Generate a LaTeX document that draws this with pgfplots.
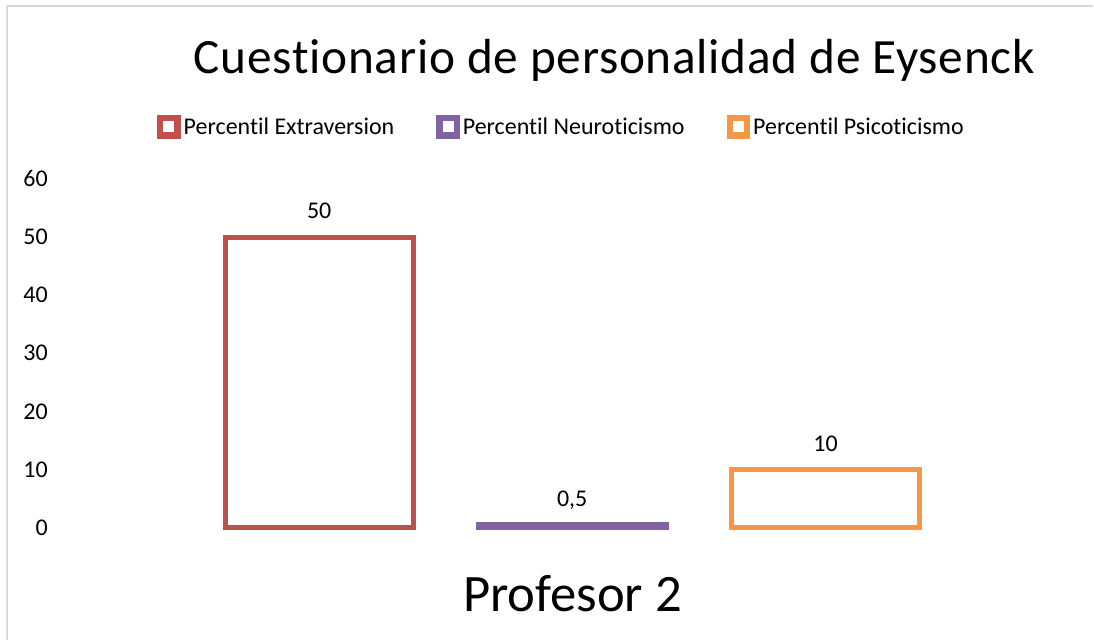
\documentclass[border=0pt]{standalone}
\usepackage{pgfplots}
\pgfplotsset{compat=1.18}
\usepackage{fontspec}
\setmainfont{Carlito}[Ligatures=NoCommon]
\newfontfamily\titlefont{Carlito}[Ligatures=NoCommon, LetterSpace=1.5]
\definecolor{cred}{RGB}{192,80,77}
\definecolor{cpur}{RGB}{128,100,162}
\definecolor{corg}{RGB}{247,150,70}
\definecolor{cframe}{RGB}{217,217,217}
\newcommand{\sm}{\fontsize{18}{21.6}\selectfont}
\begin{document}
\begin{tikzpicture}
\begin{axis}[
  scale only axis, width=820.5pt, height=480.75pt,
  xmin=0, xmax=1094, ymin=-19.436, ymax=90.815,
  axis line style={draw=none}, major tick style={draw=none},
  xtick=\empty, ytick={0,10,...,60},
  yticklabel style={anchor=east, inner sep=0pt, xshift=36pt, font=\sm},
  /pgf/number format/use comma,
  /pgf/number format/assume math mode=true,
  ybar, bar width=188,
  every axis plot/.append style={fill=white, line width=3.75pt, bar shift=0pt},
  nodes near coords,
  every node near coord/.append style={anchor=base, yshift=13.75pt, font=\sm, text=black, inner sep=0pt},
  clip=false,
  legend columns=-1,
  legend style={at={(rel axis cs:0.1435,0.8019)}, anchor=west, draw=none, fill=none, inner sep=0pt, font=\sm,
    nodes={inner sep=0pt, anchor=base west},
    /tikz/every odd column/.append style={column sep=2.25pt},
    /tikz/every even column/.append style={column sep=31.5pt}},
  xlabel={Profesor 2},
  xlabel style={at={(rel axis cs:0.5238,0.0457)}, anchor=base, font=\fontsize{39.5}{47}\selectfont, inner sep=0pt},
  title={Cuestionario de personalidad de Eysenck},
  title style={at={(rel axis cs:0.5622,0.872)}, anchor=base, font=\titlefont\fontsize{37}{44}\selectfont, inner sep=0pt},
]
\path (rel axis cs:0,0) rectangle (rel axis cs:1,1);
\draw[cframe, line width=1.5pt] (rel axis cs:0.0064,0) -- (rel axis cs:0.0064,0.9906) -- (rel axis cs:1,0.9906);
\addplot[draw=cred, bar shift=0pt, legend image code/.code={\fill[cred] (0pt,-1.2pt) rectangle (14pt,12.8pt); \fill[white] (4.75pt,3.55pt) rectangle (9.25pt,8.05pt);}]
  coordinates {(319.5,50)};
\addlegendentry{Percentil Extraversion}
\addplot[draw=cpur, bar shift=0pt, legend image code/.code={\fill[cpur] (0pt,-1.2pt) rectangle (14pt,12.8pt); \fill[white] (4.75pt,3.55pt) rectangle (9.25pt,8.05pt);}]
  coordinates {(572.7,0.5)};
\addlegendentry{Percentil Neuroticismo}
\addplot[draw=corg, bar shift=0pt, legend image code/.code={\fill[corg] (0pt,-1.2pt) rectangle (14pt,12.8pt); \fill[white] (4.75pt,3.55pt) rectangle (9.25pt,8.05pt);}]
  coordinates {(826.3,10)};
\addlegendentry{Percentil Psicoticismo}
\end{axis}
\end{tikzpicture}
\end{document}
